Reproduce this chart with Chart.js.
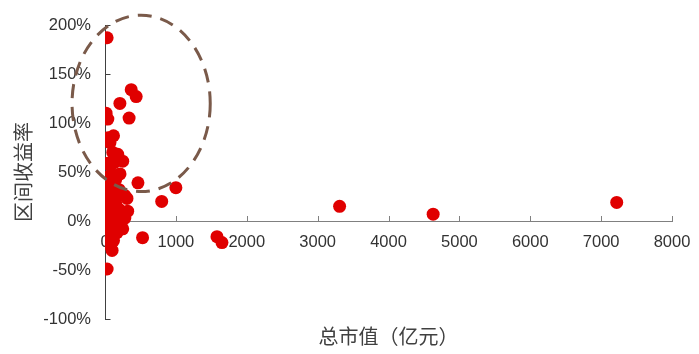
<!DOCTYPE html>
<html>
<head>
<meta charset="utf-8">
<script src="https://cdn.jsdelivr.net/npm/chart.js@4/dist/chart.umd.min.js"></script>
<style>
  html, body { margin: 0; padding: 0; background: #fff; }
  #wrap { width: 699px; height: 354px; }
</style>
</head>
<body>
<div id="wrap"><canvas id="graph" width="699" height="354"></canvas></div>
<script>
'use strict';

// 总市值（亿元）
const marketCap = [
    30, 15, 40, 210, 370, 440, 340,
    120, 45, 70, 180, 110, 250, 40, 140, 80, 212, 100, 40, 465,
    60, 1000, 120, 30, 200, 280, 90, 800, 20, 70, 150, 310, 50, 320,
    110, 250, 35, 170, 90, 280, 20, 140, 60, 220, 100, 40, 170, 80,
    120, 60, 100, 30,
    150, 90, 50, 130, 200, 70, 160, 30, 250,
    3310, 4630, 7220, 530, 1580, 1650
];
// 区间收益率 (%)
const periodReturn = [
    187, 110, 104, 120, 134, 127, 105,
    87, 85, 80, 68, 70, 61, 59, 60, 56, 48, 46, 45, 39,
    38, 34, 36, 32, 32, 26, 27, 20, 22, 20, 18, 23, 15, 10,
    12, 8, 8, 6, 5, 3, 2, 0, -2, -3, -6, -10, -12, -16,
    -20, -24, -30, -49,
    42, 15, -5, 22, 12, -14, 28, 12, -8,
    15, 7, 19, -17, -16, -22
];

const xTicks = [0, 1000, 2000, 3000, 4000, 5000, 6000, 7000, 8000];
const yTicks = [-100, -50, 0, 50, 100, 150, 200];
const xTitle = '总市值（亿元）';
const yTitle = '区间收益率';

// dashed circle around the high-return small caps (data units)
const highlight = { cx: 510, cy: 120, rx: 975, ry: 90 };

const FONT = "'Liberation Sans', 'Noto Sans CJK SC', sans-serif";
const CJK = "'Noto Sans CJK SC', sans-serif";

const innerTicks = {
    id: 'innerTicks',
    beforeDatasetsDraw(chart) {
        const { ctx, scales: { x, y } } = chart;
        const y0 = Math.round(y.getPixelForValue(0));
        ctx.save();
        ctx.lineWidth = 1;
        ctx.strokeStyle = '#808080';
        xTicks.slice(1).forEach(v => {
            const px = Math.round(x.getPixelForValue(v)) + 0.5;
            ctx.beginPath();
            ctx.moveTo(px, y0);
            ctx.lineTo(px, y0 - 5);
            ctx.stroke();
        });
        ctx.strokeStyle = '#404040';
        const x0 = Math.round(x.getPixelForValue(0)) + 0.5;
        yTicks.forEach(v => {
            if (v === 0) return;
            const py = Math.round(y.getPixelForValue(v)) + 0.5;
            ctx.beginPath();
            ctx.moveTo(x0, py);
            ctx.lineTo(x0 + 5, py);
            ctx.stroke();
        });
        ctx.restore();
    }
};

const axisTitles = {
    id: 'axisTitles',
    afterDraw(chart) {
        const { ctx, chartArea } = chart;
        ctx.save();
        ctx.fillStyle = '#404040';
        ctx.font = '20px ' + CJK;
        ctx.textAlign = 'center';
        ctx.textBaseline = 'middle';
        ctx.fillText(xTitle, (chartArea.left + chartArea.right) / 2, 336);
        ctx.translate(23, 172);
        ctx.rotate(-Math.PI / 2);
        ctx.fillText(yTitle, 0, 0);
        ctx.restore();
    }
};

const ellipse = {
    id: 'ellipse',
    afterDatasetsDraw(chart) {
        const { ctx, scales: { x, y } } = chart;
        const cx = x.getPixelForValue(highlight.cx);
        const cy = y.getPixelForValue(highlight.cy);
        const rx = x.getPixelForValue(highlight.cx + highlight.rx) - cx;
        const ry = cy - y.getPixelForValue(highlight.cy + highlight.ry);
        ctx.save();
        ctx.strokeStyle = '#7a5a4a';
        ctx.lineWidth = 3;
        ctx.setLineDash([14, 9]);
        ctx.beginPath();
        ctx.ellipse(cx, cy, rx, ry, 0, 0, Math.PI * 2);
        ctx.stroke();
        ctx.restore();
    }
};

const points = marketCap.map((v, i) => ({ x: v, y: periodReturn[i] }));

new Chart(document.getElementById('graph').getContext('2d'), {
    type: 'scatter',
    data: {
        datasets: [{
            data: points,
            backgroundColor: '#e00000',
            borderWidth: 0,
            pointRadius: 6.5,
            pointHoverRadius: 6.5
        }]
    },
    options: {
        responsive: false,
        animation: false,
        layout: { padding: { top: 25, right: 27, bottom: 35, left: 0 } },
        plugins: {
            legend: { display: false },
            tooltip: { enabled: false }
        },
        scales: {
            x: {
                type: 'linear',
                position: { y: 0 },
                min: 0,
                max: 8000,
                afterBuildTicks: s => { s.ticks = xTicks.map(v => ({ value: v })); },
                afterFit: s => { s.paddingLeft = 0; s.paddingRight = 0; },
                grid: { display: true, drawOnChartArea: false, drawTicks: false },
                border: { display: true, color: '#808080', width: 1 },
                ticks: {
                    color: '#333',
                    padding: 12,
                    maxRotation: 0,
                    font: { family: FONT, size: 16.5 },
                    callback: v => String(v)
                }
            },
            y: {
                type: 'linear',
                min: -100,
                max: 200,
                afterBuildTicks: s => { s.ticks = yTicks.map(v => ({ value: v })); },
                afterFit: s => { s.width = 105; },
                grid: { display: true, drawOnChartArea: false, drawTicks: false },
                border: { display: true, color: '#404040', width: 1 },
                ticks: {
                    color: '#333',
                    padding: 14,
                    font: { family: FONT, size: 16.5 },
                    callback: v => v + '%'
                }
            }
        }
    },
    plugins: [innerTicks, ellipse, axisTitles]
});
</script>
</body>
</html>
